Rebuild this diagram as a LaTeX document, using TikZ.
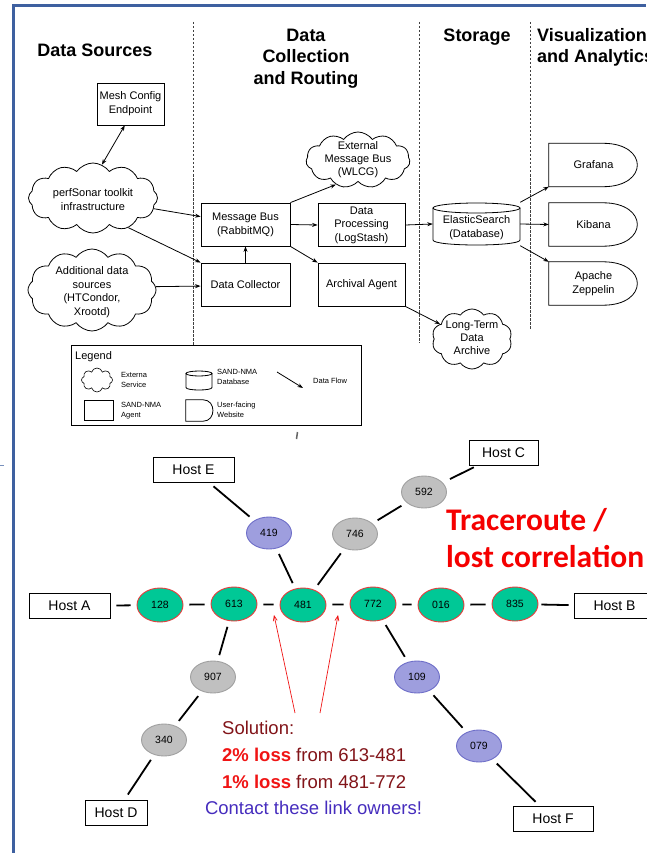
\documentclass[tikz,border=0pt]{standalone}
\usepackage{fontspec}
\setmainfont{Liberation Sans}
\newfontfamily\calibfont{Carlito}
\usetikzlibrary{shapes.symbols,shapes.geometric,arrows.meta,calc}
\definecolor{framecol}{RGB}{62,96,160}
\definecolor{gfill}{RGB}{0,200,150}
\definecolor{gline}{RGB}{230,60,60}
\definecolor{bfill}{RGB}{158,158,222}
\definecolor{bline}{RGB}{110,110,200}
\definecolor{grfill}{RGB}{192,192,192}
\definecolor{grline}{RGB}{160,160,160}
\definecolor{solred}{RGB}{130,20,25}
\definecolor{hotred}{RGB}{240,20,20}
\definecolor{contact}{RGB}{70,45,190}
\definecolor{trred}{RGB}{245,0,0}
\newcommand\websh[2][35]{\draw[line width=0.8] (#2.north west) -- ($(#2.north east)+(-#1,0)$) .. controls ($(#2.north east)+(0.3*#1,0)$) and ($(#2.south east)+(0.3*#1,0)$) .. ($(#2.south east)+(-#1,0)$) -- (#2.south west) -- cycle;}
\newcommand\cylat[5]{\draw[line width=0.8] (#1,{#2+#5}) -- (#1,{#4-#5}) .. controls (#1,{#4+#5/3}) and (#3,{#4+#5/3}) .. (#3,{#4-#5}) -- (#3,{#2+#5});
 \draw[line width=0.8] ({(#1+#3)/2},{#2+#5}) ellipse [x radius={(#3-#1)/2}, y radius=#5];}
\begin{document}
\begin{tikzpicture}[x=1pt,y=-1pt,
  hdr/.style={font=\fontsize{18}{21.5}\selectfont\bfseries, align=center, inner sep=0},
  sm/.style={font=\fontsize{11}{14}\selectfont, align=center},
  agent/.style={sm, draw, line width=0.8, minimum width=87, minimum height=43, inner sep=1},
  cloudsh/.style={cloud, draw, line width=0.8, cloud puffs=12, cloud puff arc=110, cloud ignores aspect, inner sep=0},
  flow/.style={-{Stealth[length=5.5pt,width=4pt]}, line width=0.8},
  flowtwo/.style={{Stealth[length=5.5pt,width=4pt]}-{Stealth[length=5.5pt,width=4pt]}, line width=0.8},
  leg/.style={font=\fontsize{7.5}{10}\selectfont, align=left, anchor=west, inner sep=0},
  host/.style={draw, line width=0.9, font=\fontsize{14}{16}\selectfont, minimum height=25, inner sep=2},
  hop/.style={ellipse, minimum width=45, minimum height=32, inner sep=0, font=\fontsize{10.5}{12}\selectfont, line width=0.9},
  gh/.style={hop, fill=gfill, draw=gline, minimum width=46, minimum height=34},
  bh/.style={hop, fill=bfill, draw=bline},
  grh/.style={hop, fill=grfill, draw=grline},
  link/.style={line width=1.8, shorten <=6, shorten >=6},
  sol/.style={font=\fontsize{18.5}{22}\selectfont, anchor=west, inner sep=0},
  divider/.style={dash pattern=on 2.5pt off 1.5pt, line width=0.9, black!75},
  redarr/.style={hotred, line width=0.7, -{Straight Barb[length=5pt,width=4pt]}}
]
\useasboundingbox (0,0) rectangle (646,853);
\fill[white] (0,0) rectangle (646,853);

% frame
\draw[framecol, line width=3] (13.5,853) -- (13.5,6) -- (646,6);
\draw[framecol!70, line width=1] (0,465) -- (4,465);

% headers
\node[hdr] (h1) at (95,50) {Data Sources};
\node[hdr] (h2) at (306,58.5) {Data\\Collection\\and Routing};
\node[hdr] (h3) at (477,37) {Storage};
\node[hdr, align=left, anchor=west] (h4) at (537,47.5) {Visualization\\and Analytics};

% dividers
\draw[divider] (193,22) -- (193,345);
\draw[divider] (419,22) -- (419,343);
\draw[divider] (530,22) -- (530,330);

% top nodes
\node[agent, minimum width=67, minimum height=42] (mesh) at (130.5,104) {Mesh Config\\Endpoint};
\node[cloudsh, minimum width=129, minimum height=70] (perf) at (93,198) {};
\node[sm] (perft) at (93,200) {perfSonar toolkit\\infrastructure};
\node[cloudsh, minimum width=128, minimum height=82] (adds) at (92,290) {};
\node[sm, font=\fontsize{11}{13.5}\selectfont] (addst) at (92,292) {Additional data\\sources\\(HTCondor,\\Xrootd)};
\node[agent, minimum width=89] (msg) at (245.5,224.5) {Message Bus\\(RabbitMQ)};
\node[agent, minimum width=89] (dc) at (245.5,284.5) {Data Collector};
\node[agent, font=\fontsize{11}{13.5}\selectfont] (dp) at (361.5,225) {Data\\Processing\\(LogStash)};
\node[agent] (arch) at (361.5,284.5) {Archival Agent};
\node[cloudsh, cloud puffs=11, minimum width=104, minimum height=56] (ext) at (358,160) {};
\node[sm, font=\fontsize{11}{13}\selectfont] (extt) at (358,160) {External\\Message Bus\\(WLCG)};
\node[minimum width=87, minimum height=43, inner sep=0] (es) at (476.5,224) {};
\cylat{433}{203}{520}{245}{5}
\node[sm] (est) at (476.5,228) {ElasticSearch\\(Database)};
\node[cloudsh, cloud puffs=10, minimum width=80, minimum height=60] (lt) at (472,339) {};
\node[sm, font=\fontsize{11}{13}\selectfont] (ltt) at (472,338) {Long-Term\\Data\\Archive};
\node[sm, minimum width=89, minimum height=43, inner sep=0] (graf) at (593.5,165) {Grafana};
\node[sm, minimum width=89, minimum height=43, inner sep=0] (kib) at (593.5,224.5) {Kibana};
\node[sm, minimum width=89, minimum height=43, inner sep=0] (zep) at (593.5,283.5) {Apache\\Zeppelin};
\websh{graf}
\websh{kib}
\websh{zep}

% top arrows
\draw[flowtwo] (mesh.255) -- (perf.75);
\draw[flow] (perf.-10) -- (msg.170);
\draw[flow] (perf.-40) -- (dc.north west);
\draw[flow] (adds.3) -- (dc.182);
\draw[flow] (dc.north) -- (msg.south);
\draw[flow] (msg.north east) -- (ext.228);
\draw[flow] (msg.east) -- (dp.west);
\draw[flow] (msg.south east) -- (arch.north west);
\draw[flow] (dp.east) -- (es.west);
\draw[flow] (arch.south east) -- (lt.155);
\draw[flow] (es.north east) -- (graf.south west);
\draw[flow] (es.east) -- (kib.west);
\draw[flow] (es.south east) -- (zep.north west);

% legend
\node[draw, line width=0.8, minimum width=290, minimum height=80, anchor=north west, inner sep=0] (legbox) at (71,345) {};
\node[font=\fontsize{11}{13}\selectfont, anchor=west, inner sep=0] (legt) at (75,357) {Legend};
\node[cloud, draw, line width=0.6, cloud puffs=8, cloud ignores aspect, minimum width=31, minimum height=24, inner sep=0] (lcloud) at (97,380) {};
\node[leg] (lct) at (121,380) {Externa\\Service};
\cylat{186}{371}{212}{390}{2.5}
\node[leg] (ldt) at (217,377) {SAND-NMA\\Database};
\coordinate (la1) at (277,372);
\coordinate (la2) at (303,388);
\draw[flow] (la1) -- (la2);
\node[leg] (lft) at (313,381) {Data Flow};
\node[draw, line width=0.6, minimum width=29, minimum height=20, inner sep=0] (lagent) at (98.5,410) {};
\node[leg] (lat) at (121,411) {SAND-NMA\\Agent};
\node[minimum width=27, minimum height=21, inner sep=0] (lweb) at (199.5,410.5) {};
\websh[10]{lweb}
\node[leg] (lwt) at (217,410) {User-facing\\Website};
\draw[black!60, line width=1.5] (297.5,432) -- (296.5,439);

% bottom graph
\node[host, minimum width=81] (hE) at (193.5,469.5) {Host E};
\node[host, minimum width=69] (hC) at (503.5,452.5) {Host C};
\node[host, minimum width=81] (hA) at (69.5,606) {Host A};
\node[host, minimum width=81] (hB) at (614.5,606) {Host B};
\node[host, minimum width=62] (hD) at (116,812.5) {Host D};
\node[host, minimum width=80] (hF) at (553,819) {Host F};

\node[gh] (n128) at (160,605) {128};
\node[gh] (n613) at (234,604) {613};
\node[gh] (n481) at (303,605) {481};
\node[gh] (n772) at (373,604) {772};
\node[gh] (n016) at (441,605) {016};
\node[gh] (n835) at (515,604) {835};
\node[bh] (n419) at (269,533) {419};
\node[grh] (n746) at (355,534) {746};
\node[grh] (n592) at (424,492) {592};
\node[grh] (n907) at (213,677) {907};
\node[grh] (n340) at (164,740) {340};
\node[bh] (n109) at (417,677) {109};
\node[bh] (n079) at (479,746) {079};

\draw[link] (hA) -- (n128);
\draw[link] (n128) -- (n613);
\draw[link] (n613) -- (n481);
\draw[link] (n481) -- (n772);
\draw[link] (n772) -- (n016);
\draw[link] (n016) -- (n835);
\draw[link, shorten <=3, shorten >=5] (n835) -- (hB);
\draw[link] (hE) -- (n419);
\draw[link] (n419) -- (n481);
\draw[link] (n481) -- (n746);
\draw[link] (n746) -- (n592);
\draw[link, shorten <=8, shorten >=4] (n592) -- (hC);
\draw[link] (n613) -- (n907);
\draw[link] (n907) -- (n340);
\draw[link] (n340) -- (hD);
\draw[link] (n772) -- (n109);
\draw[link] (n109) -- (n079);
\draw[link] (n079) -- (hF);

\node[font=\calibfont\bfseries\fontsize{31.5}{37}\selectfont, text=trred, align=left, anchor=west, inner sep=0] (trc) at (446,538.5) {Traceroute /\\lost correlation};

\coordinate (ra1) at (295,713);
\coordinate (rt1) at (274,615);
\coordinate (ra2) at (320,713);
\coordinate (rt2) at (338,615);
\draw[redarr] (ra1) -- (rt1);
\draw[redarr] (ra2) -- (rt2);

\node[sol, text=solred] (s1) at (222,728) {Solution:};
\node[sol, text=solred] (s2) at (222,755) {\textcolor{hotred}{\bfseries 2\% loss} from 613-481};
\node[sol, text=solred] (s3) at (222,782) {\textcolor{hotred}{\bfseries 1\% loss} from 481-772};
\node[sol, text=contact, anchor=center] (s4) at (313.5,808) {Contact these link owners!};
\end{tikzpicture}
\end{document}
